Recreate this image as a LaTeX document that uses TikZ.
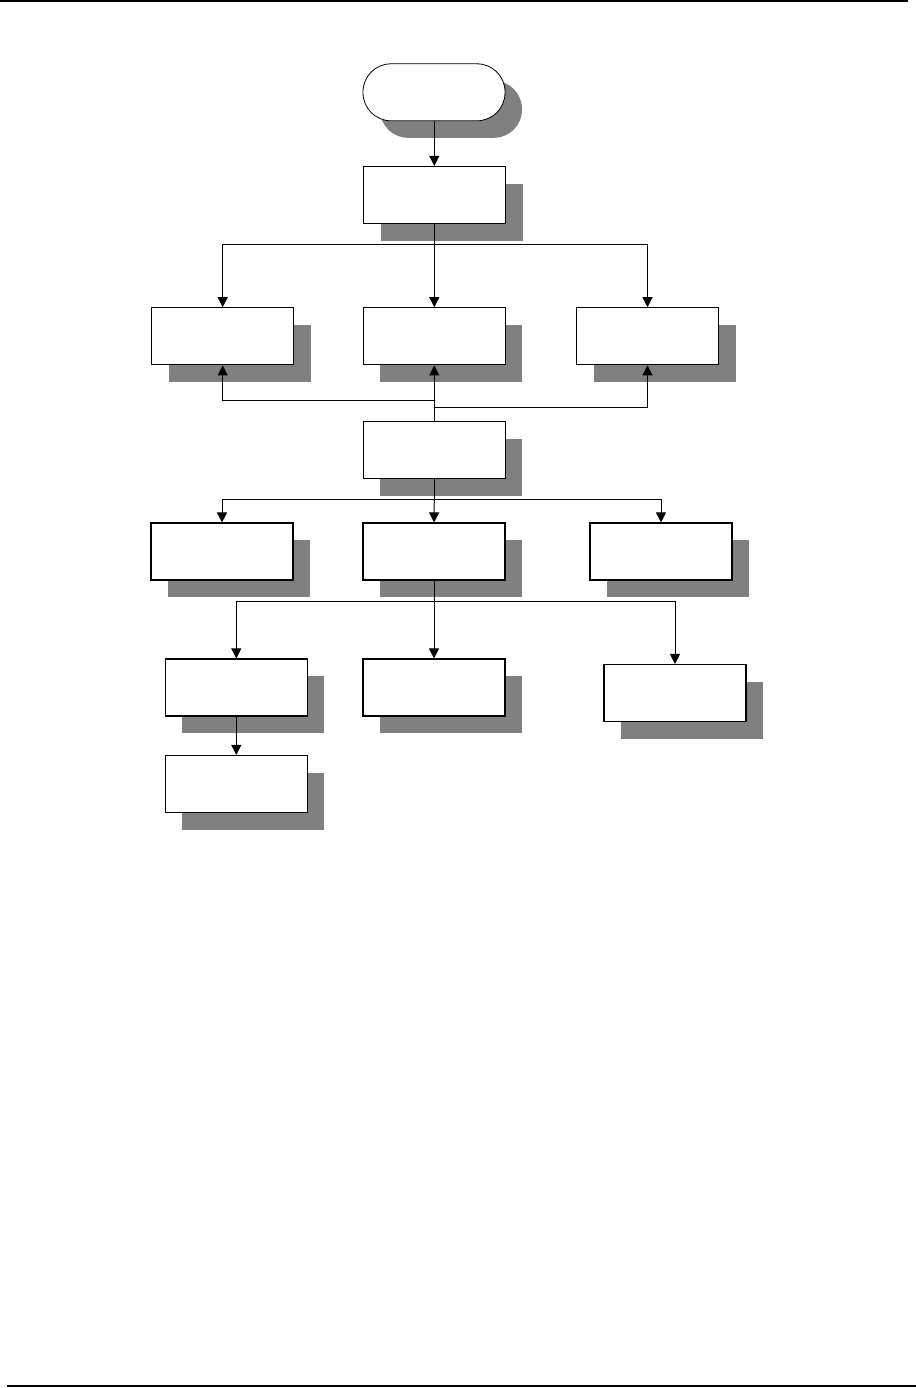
\documentclass[tikz,border=0pt]{standalone}
\usetikzlibrary{shadows,arrows.meta}
\begin{document}
\begin{tikzpicture}[x=0.5pt,y=-0.5pt,
  shd/.style={drop shadow={shadow xshift=8.5pt,shadow yshift=-8.5pt,fill=black!50,opacity=1}},
  stepbox/.style={draw,fill=white,line width=0.6pt,minimum width=71pt,minimum height=28.5pt,inner sep=0pt,shd},
  termbox/.style={draw,fill=white,line width=0.4pt,minimum width=71pt,minimum height=28.5pt,inner sep=0pt,rounded corners=14pt,shd},
  conn/.style={line width=0.5pt},
  arr/.style={conn,-{Triangle[length=5pt,width=5pt]}},
  rule/.style={line width=1pt}]
\useasboundingbox (0,0) rectangle (916,1388);
\draw[rule] (0,1) -- (908,1);
\draw[rule] (7,1386) -- (916,1386);

\node[termbox] (t) at (434,92.3) {};
\node[stepbox] (b1) at (434.5,195) {};
\node[stepbox] (r2L) at (222.7,336.3) {};
\node[stepbox] (r2C) at (434.3,336.3) {};
\node[stepbox] (r2R) at (647.5,336.3) {};
\node[stepbox] (b3) at (434.3,450) {};
\node[stepbox] (r4L) at (222,551.5) {};
\node[stepbox] (r4C) at (434,551.5) {};
\node[stepbox] (r4R) at (661,551.5) {};
\node[stepbox] (r5L) at (236.3,687.5) {};
\node[stepbox] (r5C) at (434,687.5) {};
\node[stepbox] (r5R) at (675,693) {};
\node[stepbox] (r6) at (236.3,784) {};

\coordinate (j1) at (434.3,244);
\coordinate (j2L) at (434.3,400.3);
\coordinate (j2R) at (434.3,407.3);
\coordinate (j3) at (434.3,499.3);
\coordinate (j4) at (434,601);

\draw[arr] (t.south -| j1) -- (b1.north -| j1);
\draw[conn] (b1.south -| j1) -- (j1);
\draw[arr] (j1) -| (r2L.north);
\draw[arr] (j1) -- (r2C.north);
\draw[arr] (j1) -| (r2R.north);

\draw[arr] (b3.north) -- (r2C.south);
\draw[arr] (j2L) -| (r2L.south);
\draw[arr] (j2R) -| (r2R.south);

\draw[conn] (b3.south) -- (j3);
\draw[arr] (j3) -| (r4L.north);
\draw[arr] (j3) -- (r4C.north);
\draw[arr] (j3) -| (r4R.north);

\draw[conn] (r4C.south) -- (j4);
\draw[arr] (j4) -| (r5L.north);
\draw[arr] (j4) -- (r5C.north);
\draw[arr] (j4) -| (r5R.north);

\draw[arr] (r5L.south) -- (r6.north);
\end{tikzpicture}
\end{document}
